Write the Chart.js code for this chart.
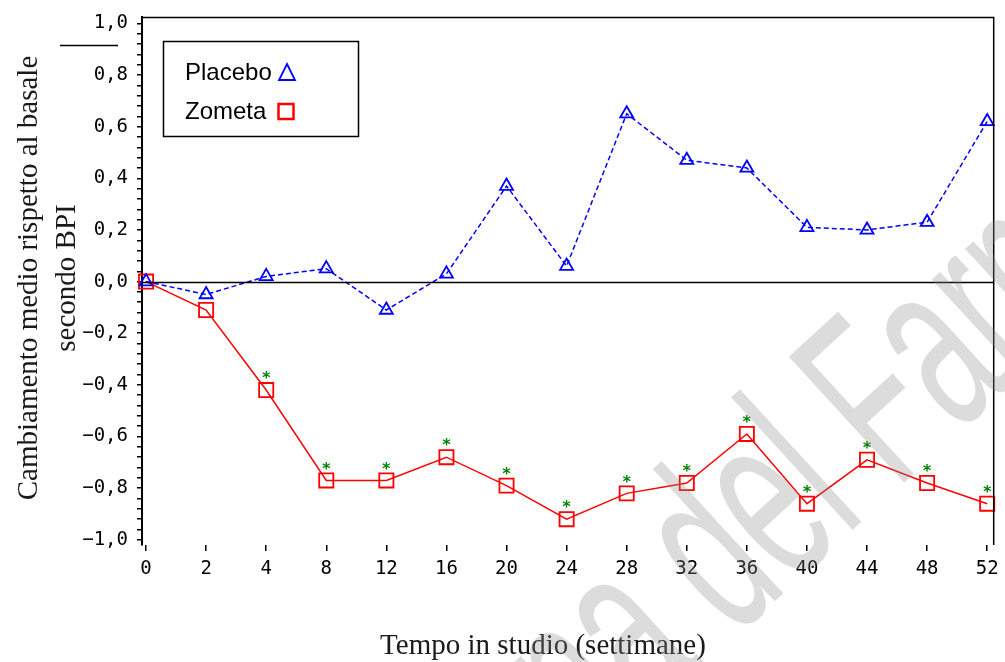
<!DOCTYPE html>
<html>
<head>
<meta charset="utf-8">
<script src="https://cdn.jsdelivr.net/npm/chart.js@4.4.1/dist/chart.umd.min.js"></script>
<style>
  html, body { margin: 0; padding: 0; background: #ffffff; }
  #wrap { width: 1005px; height: 662px; position: relative; }
</style>
</head>
<body>
<div id="wrap"><canvas id="c" width="1005" height="662"></canvas></div>
<script>
// ---- data ----
const weeks = ['0','2','4','8','12','16','20','24','28','32','36','40','44','48','52'];
const placeboValues = [0.00, -0.05, 0.02, 0.05, -0.11, 0.03, 0.37, 0.06, 0.65, 0.47, 0.44, 0.21, 0.20, 0.23, 0.62];
const zometaValues  = [0.00, -0.11, -0.42, -0.77, -0.77, -0.68, -0.79, -0.92, -0.82, -0.78, -0.59, -0.86, -0.69, -0.78, -0.86];
const zometaSignificant = [false, false, true, true, true, true, true, true, true, true, true, true, true, true, true];
const yMajorTicks = [-1.0, -0.8, -0.6, -0.4, -0.2, 0.0, 0.2, 0.4, 0.6, 0.8, 1.0];
const yTickLabels = ['\u22121,0', '\u22120,8', '\u22120,6', '\u22120,4', '\u22120,2', '0,0', '0,2', '0,4', '0,6', '0,8', '1,0'];
const yMinorStep = 0.04;
const seriesNames = ['Placebo', 'Zometa'];
const yTitleLines = ['Cambiamento medio rispetto al basale', 'secondo BPI'];
const xTitle = 'Tempo in studio (settimane)';
const watermarkBefore = 'Agenzia Italiana del ';
const watermarkAfter = 'Farmaco';

const tickFont = { family: 'DejaVu Sans Mono', size: 19 };

const placeboData = placeboValues.map((v, i) => ({ x: i, y: v }));
const zometaData = zometaValues.map((v, i) => ({ x: i, y: v }));

const decorPlugin = {
  id: 'decor',
  afterDatasetsDraw(chart) {
    const ctx = chart.ctx;
    const ca = chart.chartArea;
    const ys = chart.scales.y;
    ctx.save();
    // zero reference line
    ctx.strokeStyle = '#000';
    ctx.lineWidth = 1.5;
    ctx.beginPath();
    const y0 = Math.round(ys.getPixelForValue(0)) + 0.5;
    ctx.moveTo(ca.left, y0); ctx.lineTo(ca.right, y0);
    ctx.stroke();
    // top and right frame
    ctx.beginPath();
    ctx.moveTo(ca.left, ca.top + 0.5); ctx.lineTo(ca.right + 0.5, ca.top + 0.5);
    ctx.lineTo(ca.right + 0.5, ca.bottom);
    ctx.stroke();
    // significance asterisks
    const meta = chart.getDatasetMeta(1);
    ctx.fillStyle = '#008000';
    ctx.font = 'bold 16px "DejaVu Sans Mono"';
    ctx.textAlign = 'center';
    ctx.textBaseline = 'middle';
    meta.data.forEach((pt, i) => {
      if (zometaSignificant[i]) ctx.fillText('*', pt.x, pt.y - 11);
    });
    ctx.restore();
  },
  afterDraw(chart) {
    const ctx = chart.ctx;
    ctx.save();
    // legend box
    ctx.strokeStyle = '#000';
    ctx.lineWidth = 1.5;
    ctx.strokeRect(163.5, 41.5, 195, 95);
    ctx.fillStyle = '#000';
    ctx.font = '24px "Liberation Sans"';
    ctx.textAlign = 'left';
    ctx.textBaseline = 'middle';
    ctx.fillText(seriesNames[0], 185, 73);
    ctx.fillText(seriesNames[1], 185, 112);
    // legend symbols
    ctx.strokeStyle = '#0000ff';
    ctx.lineWidth = 1.8;
    ctx.beginPath();
    ctx.moveTo(287, 64); ctx.lineTo(295, 80); ctx.lineTo(279, 80); ctx.closePath();
    ctx.stroke();
    ctx.strokeStyle = '#ff0000';
    ctx.lineWidth = 2.5;
    ctx.strokeRect(278.5, 104, 15, 15);
    // stray rule at top left
    ctx.strokeStyle = '#000';
    ctx.lineWidth = 1.5;
    ctx.beginPath();
    ctx.moveTo(60, 45.5); ctx.lineTo(118, 45.5);
    ctx.stroke();
    // axis titles
    ctx.fillStyle = '#1a1a1a';
    ctx.font = '29px "Liberation Serif"';
    ctx.textAlign = 'center';
    ctx.textBaseline = 'alphabetic';
    ctx.save();
    ctx.translate(37, 278);
    ctx.rotate(-Math.PI / 2);
    ctx.fillText(yTitleLines[0], 0, 0);
    ctx.restore();
    ctx.save();
    ctx.translate(75, 278);
    ctx.rotate(-Math.PI / 2);
    ctx.fillText(yTitleLines[1], 0, 0);
    ctx.restore();
    ctx.fillText(xTitle, 543, 654);
    // watermark
    ctx.save();
    ctx.translate(909, 478);
    ctx.rotate(-42.5 * Math.PI / 180);
    ctx.scale(0.55, 1);
    ctx.fillStyle = 'rgba(140,140,140,0.3)';
    ctx.font = '248px "Liberation Sans"';
    ctx.textBaseline = 'alphabetic';
    ctx.textAlign = 'right';
    ctx.fillText(watermarkBefore, -32, 0);
    ctx.textAlign = 'left';
    ctx.fillText(watermarkAfter, -32, 0);
    ctx.restore();
    ctx.restore();
  }
};

new Chart(document.getElementById('c'), {
  type: 'line',
  data: {
    datasets: [
      {
        label: seriesNames[0],
        data: placeboData,
        borderColor: '#0000ff',
        borderWidth: 1.5,
        borderDash: [5, 3],
        pointStyle: 'triangle',
        pointRadius: 7.5,
        pointBorderWidth: 1.8,
        pointBorderColor: '#0000ff',
        pointBackgroundColor: 'rgba(0,0,0,0)',
        tension: 0,
        clip: false
      },
      {
        label: seriesNames[1],
        data: zometaData,
        borderColor: '#ff0000',
        borderWidth: 1.5,
        pointStyle: 'rect',
        pointRadius: 10,
        pointBorderWidth: 1.8,
        pointBorderColor: '#ff0000',
        pointBackgroundColor: 'rgba(0,0,0,0)',
        tension: 0,
        clip: false
      }
    ]
  },
  options: {
    responsive: false,
    animation: false,
    devicePixelRatio: 1,
    layout: { padding: { top: 17, right: 11, left: 0, bottom: 0 } },
    plugins: { legend: { display: false }, tooltip: { enabled: false }, title: { display: false } },
    scales: {
      x: {
        type: 'linear',
        min: -0.067,
        max: 14.1,
        afterBuildTicks(scale) { scale.ticks = weeks.map((w, i) => ({ value: i })); },
        afterFit(scale) { scale.height = 117; scale.paddingLeft = 0; scale.paddingRight = 0; },
        ticks: {
          color: '#000',
          font: tickFont,
          padding: 7,
          maxRotation: 0,
          autoSkip: false,
          callback: (v) => weeks[v] !== undefined ? weeks[v] : ''
        },
        grid: { display: true, drawOnChartArea: false, drawTicks: true, tickLength: 6, color: '#000', lineWidth: 1.5 },
        border: { display: false }
      },
      y: {
        type: 'linear',
        min: -1.02,
        max: 1.0245,
        afterBuildTicks(scale) {
          const t = [];
          const n = Math.round((yMajorTicks[yMajorTicks.length - 1] - yMajorTicks[0]) / yMinorStep);
          for (let k = 0; k <= n; k++) t.push({ value: +(yMajorTicks[0] + k * yMinorStep).toFixed(2) });
          scale.ticks = t;
        },
        afterFit(scale) { scale.width = 142; scale.paddingTop = 0; scale.paddingBottom = 0; },
        ticks: {
          color: '#000',
          font: tickFont,
          padding: 9,
          autoSkip: false,
          callback: (v) => {
            const idx = yMajorTicks.findIndex(m => Math.abs(m - v) < 1e-6);
            return idx >= 0 ? yTickLabels[idx] : '';
          }
        },
        grid: { display: true, drawOnChartArea: false, drawTicks: true, tickLength: 5, color: '#000', lineWidth: 1.5 },
        border: { display: true, color: '#000', width: 2 }
      }
    }
  },
  plugins: [decorPlugin]
});
</script>
</body>
</html>
